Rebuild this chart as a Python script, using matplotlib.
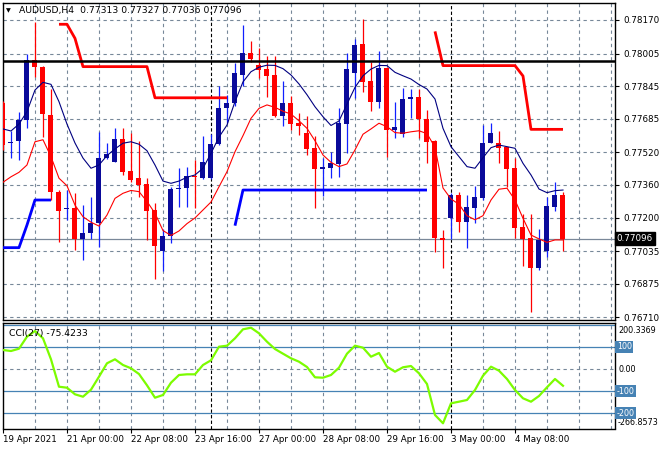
import matplotlib
matplotlib.use('Agg')
import matplotlib.pyplot as plt
import numpy as np

# ---------------- data (AUDUSD H4) ----------------
opens = [0.77762, 0.77566, 0.77577, 0.77679, 0.77974, 0.77941, 0.77703, 0.77324, 0.77242, 0.77248,
         0.77093, 0.77123, 0.77172, 0.77491, 0.77474, 0.77586, 0.77428, 0.77396, 0.77365, 0.77237,
         0.77037, 0.77109, 0.77339, 0.77346, 0.77404, 0.77394, 0.77396, 0.77561, 0.77739, 0.77764,
         0.77900, 0.78009, 0.77949, 0.77929, 0.77900, 0.77699, 0.77761, 0.77666, 0.77617, 0.77540,
         0.77437, 0.77445, 0.77463, 0.77661, 0.77911, 0.78052, 0.77870, 0.77769, 0.77933, 0.77630,
         0.77609, 0.77781, 0.77790, 0.77682, 0.77576, 0.77101, 0.77196, 0.77311, 0.77180, 0.77248,
         0.77297, 0.77567, 0.77567, 0.77544, 0.77442, 0.77152, 0.77101, 0.76954, 0.77037, 0.77253,
         0.77313]
highs = [0.77772, 0.77625, 0.77718, 0.78003, 0.78162, 0.77944, 0.77830, 0.77335, 0.77335, 0.77319,
         0.77262, 0.77299, 0.77621, 0.77568, 0.77641, 0.77641, 0.77617, 0.77576, 0.77394, 0.77271,
         0.77142, 0.77350, 0.77442, 0.77447, 0.77483, 0.77602, 0.77610, 0.77846, 0.77802, 0.77957,
         0.78145, 0.78067, 0.78032, 0.77993, 0.77993, 0.77870, 0.77798, 0.77715, 0.77699, 0.77600,
         0.77491, 0.77523, 0.77736, 0.78009, 0.78077, 0.78173, 0.77965, 0.78018, 0.77939, 0.77769,
         0.77835, 0.77830, 0.77831, 0.77728, 0.77581, 0.77139, 0.77319, 0.77327, 0.77311, 0.77355,
         0.77654, 0.77666, 0.77625, 0.77546, 0.77491, 0.77217, 0.77217, 0.77142, 0.77301, 0.77373,
         0.77327]
lows = [0.77532, 0.77492, 0.77482, 0.77640, 0.77892, 0.77597, 0.77286, 0.77081, 0.77188, 0.77041,
        0.76991, 0.77093, 0.77057, 0.77489, 0.77473, 0.77409, 0.77374, 0.77301, 0.77090, 0.76897,
        0.76939, 0.77073, 0.77253, 0.77253, 0.77245, 0.77389, 0.77389, 0.77556, 0.77664, 0.77748,
        0.77846, 0.77965, 0.77884, 0.77793, 0.77694, 0.77651, 0.77630, 0.77605, 0.77507, 0.77245,
        0.77306, 0.77396, 0.77400, 0.77515, 0.77787, 0.77818, 0.77725, 0.77736, 0.77497, 0.77589,
        0.77597, 0.77689, 0.77592, 0.77466, 0.77032, 0.76951, 0.77093, 0.77130, 0.77052, 0.77173,
        0.77286, 0.77565, 0.77466, 0.77351, 0.77101, 0.76962, 0.76738, 0.76942, 0.77008, 0.77234,
        0.77036]
closes = [0.77556, 0.77573, 0.77679, 0.77974, 0.77941, 0.77707, 0.77323, 0.77234, 0.77247, 0.77093,
          0.77123, 0.77172, 0.77491, 0.77512, 0.77586, 0.77425, 0.77384, 0.77360, 0.77234, 0.77062,
          0.77109, 0.77339, 0.77346, 0.77404, 0.77398, 0.77473, 0.77561, 0.77739, 0.77761, 0.77911,
          0.78009, 0.77978, 0.77924, 0.77895, 0.77699, 0.77761, 0.77659, 0.77649, 0.77537, 0.77437,
          0.77447, 0.77466, 0.77666, 0.77928, 0.78047, 0.77867, 0.77769, 0.77933, 0.77630, 0.77646,
          0.77781, 0.77793, 0.77682, 0.77572, 0.77101, 0.77090, 0.77311, 0.77180, 0.77253, 0.77302,
          0.77564, 0.77617, 0.77540, 0.77437, 0.77150, 0.77095, 0.76954, 0.77090, 0.77257, 0.77311,
          0.77096]

ma_blue = [0.77635, 0.77625, 0.77659, 0.77720, 0.77826, 0.77864, 0.77854, 0.77769, 0.77659, 0.77566,
           0.77492, 0.77442, 0.77458, 0.77504, 0.77537, 0.77565, 0.77572, 0.77560, 0.77528, 0.77458,
           0.77379, 0.77368, 0.77379, 0.77398, 0.77409, 0.77442, 0.77515, 0.77595, 0.77654, 0.77769,
           0.77866, 0.77916, 0.77938, 0.77948, 0.77947, 0.77931, 0.77900, 0.77856, 0.77803, 0.77744,
           0.77695, 0.77652, 0.77674, 0.77757, 0.77839, 0.77896, 0.77929, 0.77947, 0.77946, 0.77913,
           0.77896, 0.77880, 0.77853, 0.77831, 0.77782, 0.77638, 0.77548, 0.77499, 0.77450, 0.77442,
           0.77494, 0.77543, 0.77556, 0.77548, 0.77540, 0.77466, 0.77409, 0.77340, 0.77322, 0.77332,
           0.77335]
ma_red = [0.77373, 0.77400, 0.77422, 0.77458, 0.77572, 0.77582, 0.77499, 0.77393, 0.77356, 0.77261,
          0.77204, 0.77177, 0.77158, 0.77212, 0.77294, 0.77319, 0.77333, 0.77327, 0.77279, 0.77221,
          0.77136, 0.77112, 0.77134, 0.77170, 0.77198, 0.77237, 0.77276, 0.77351, 0.77425, 0.77523,
          0.77602, 0.77687, 0.77736, 0.77753, 0.77741, 0.77722, 0.77708, 0.77675, 0.77638, 0.77577,
          0.77507, 0.77471, 0.77450, 0.77463, 0.77532, 0.77609, 0.77635, 0.77663, 0.77646, 0.77617,
          0.77614, 0.77621, 0.77626, 0.77612, 0.77545, 0.77345, 0.77291, 0.77265, 0.77209, 0.77189,
          0.77209, 0.77286, 0.77339, 0.77344, 0.77286, 0.77196, 0.77114, 0.77095, 0.77078, 0.77090,
          0.77090]

nan = float('nan')
stop_red = ([nan] * 7 + [0.78149, 0.78149, 0.78080] + [0.77941] * 9 + [0.77788] * 10
            + [nan] * 25 + [0.78114] + [0.77946] * 10 + [0.77895] + [0.77633] * 5)
stop_blue = ([0.77052] * 3 + [0.77163] + [0.77286] * 3 + [nan] * 22
             + [0.77160] + [0.77335] * 24 + [nan] * 17)

cci = [85.5, 81.0, 91.4, 145.4, 171.0, 138.2, 43.7, -79.7, -84.2, -113.9,
       -124.7, -93.2, -34.7, 25.7, 43.7, 18.0, 3.2, -22.5, -73.4, -129.2,
       -117.0, -61.7, -27.0, -23.9, -23.9, 18.0, 39.2, 100.4, 104.9, 138.2,
       178.7, 185.9, 160.7, 122.9, 90.0, 68.9, 48.2, 32.9, 9.0, -37.4,
       -39.2, -27.0, 5.9, 68.9, 104.9, 95.9, 55.4, 72.0, 10.4, -12.2,
       7.7, 13.5, -19.4, -67.5, -207.0, -244.4, -154.4, -147.2, -139.5, -94.5,
       -30.2, 10.4, -7.7, -45.0, -94.5, -131.9, -147.2, -121.5, -82.4, -45.0,
       -75.4233]

price_ticks = [0.78170, 0.78005, 0.77845, 0.77685, 0.77520, 0.77360, 0.77200, 0.77035, 0.76875, 0.76710]
price_labels = ['0.78170', '0.78005', '0.77845', '0.77685', '0.77520', '0.77360', '0.77200', '0.77035', '0.76875', '0.76710']
date_idx = [0, 8, 16, 24, 32, 40, 48, 56, 64]
date_labels = ['19 Apr 2021', '21 Apr 00:00', '22 Apr 08:00', '23 Apr 16:00', '27 Apr 00:00',
               '28 Apr 08:00', '29 Apr 16:00', '3 May 00:00', '4 May 08:00']
week_sep = [26, 56]
resistance = 0.77969
last_price = 0.77096
cci_levels = [200, 100, -100, -200]
cci_min, cci_max = -266.8573, 200.3369

# ---------------- layout ----------------
W, H = 660, 450
FONT = 'DejaVu Sans'
FS = 6.3
fig = plt.figure(figsize=(W / 100, H / 100), dpi=100)
fig.patch.set_facecolor('white')

def rect(x0, y0, x1, y1):
    return [x0 / W, 1 - y1 / H, (x1 - x0) / W, (y1 - y0) / H]

ax = fig.add_axes(rect(2.5, 3, 615, 320))
axc = fig.add_axes(rect(2.5, 322.5, 615, 428.5))

n = len(opens)
x = np.arange(n)
xlim = (-0.06, 76.5)

GRID = '#778899'
DASH = (0, (3, 3))

p_per_px = (price_ticks[0] - price_ticks[-1]) / 297.3
ytop = price_ticks[0] + (20 - 3) * p_per_px
ybot = price_ticks[0] - (320 - 20) * p_per_px

for a in (ax, axc):
    a.set_xlim(*xlim)
    for s in a.spines.values():
        s.set_color('black')
        s.set_linewidth(1.0)
    for k in range(4, 77, 4):
        if k in week_sep:
            continue
        a.axvline(k, color=GRID, lw=0.8, ls=DASH, zorder=0)
    for k in week_sep:
        a.axvline(k, color='black', lw=0.8, ls=(0, (3, 2)), zorder=0.5)

ax.set_ylim(ybot, ytop)
for p in price_ticks:
    ax.axhline(p, color=GRID, lw=0.8, ls=DASH, zorder=0)

# candles
bull_body, bull_wick = '#0a0a9a', '#1020ff'
bear = '#ff0000'
for i in range(n):
    o, h, l, c = opens[i], highs[i], lows[i], closes[i]
    up = c >= o
    wc = bull_wick if up else bear
    bc = bull_body if up else bear
    ax.vlines(i, l, h, colors=wc, lw=0.9, zorder=3)
    hgt = max(abs(c - o), 0.00005)
    ax.bar(i, hgt, bottom=min(o, c), width=0.625, color=bc, lw=0, zorder=4)

ax.plot(x, ma_blue, color='#000080', lw=0.8, zorder=5)
ax.plot(x, ma_red, color='#ff0000', lw=0.8, zorder=5)
ax.plot(x, stop_red, color='#ff0000', lw=2.0, zorder=5, solid_capstyle='butt')
ax.plot(x, stop_blue, color='#0000ff', lw=2.0, zorder=5, solid_capstyle='butt')
ax.axhline(resistance, color='black', lw=1.8, zorder=6)
ax.axhline(last_price, color='#7a8899', lw=0.9, zorder=2)

ax.set_xticks([])
ax.yaxis.tick_right()
ax.set_yticks(price_ticks)
ax.set_yticklabels(price_labels, fontsize=FS, family=FONT)
ax.tick_params(axis='y', length=3, width=0.8, pad=3, colors='black')

ytr = ax.get_yaxis_transform()
ax.text(1.0025, last_price, f'{last_price:.5f}', transform=ytr, ha='left', va='center',
        fontsize=FS, family=FONT, color='white', zorder=10,
        bbox=dict(boxstyle='square,pad=0.22', fc='black', ec='black'))

# title
fig.text(6 / W, 1 - 10.5 / H, '▼', fontsize=4.5, family=FONT, va='center', ha='left')
fig.text(19 / W, 1 - 10.5 / H, 'AUDUSD,H4  0.77313 0.77327 0.77036 0.77096',
         fontsize=FS + 0.4, family=FONT, va='center', ha='left', color='black')

# ---------------- CCI ----------------
axc.set_ylim(cci_min - 1, cci_max + 9)
axc.axhline(0, color=GRID, lw=0.8, ls=DASH, zorder=0)
for lv in cci_levels:
    axc.axhline(lv, color='#4682b4', lw=0.9, zorder=1)
axc.plot(x, cci, color='#7cfc00', lw=1.6, zorder=4)

axc.set_yticks([])
axc.set_xticks(date_idx)
axc.set_xticklabels(date_labels, fontsize=FS, family=FONT)
for lbl in axc.get_xticklabels():
    lbl.set_ha('left')
axc.tick_params(axis='x', length=3, width=0.8, pad=2)

SFS = 5.8
ctr = axc.get_yaxis_transform()
for lv in [100, -100, -200]:
    axc.text(1.003, lv, str(lv), transform=ctr, ha='left', va='center', fontsize=SFS,
             family=FONT, color='white', zorder=10,
             bbox=dict(boxstyle='square,pad=0.18', fc='#4682b4', ec='none'))
axc.text(1.006, 175, f'{cci_max:.4f}', transform=ctr, ha='left', va='center',
         fontsize=SFS, family=FONT, color='black', zorder=11)
axc.text(1.006, 0, '0.00', transform=ctr, ha='left', va='center', fontsize=SFS,
         family=FONT, color='black')
axc.text(1.004, cci_min + 24, f'{cci_min:.4f}', transform=ctr, ha='left', va='center',
         fontsize=SFS, family=FONT, color='black')
axc.text(0.01, 0.9, f'CCI(27) {cci[-1]:.4f}', transform=axc.transAxes, ha='left', va='center',
         fontsize=FS + 0.4, family=FONT, color='black', zorder=10)

fig.savefig('out.png', dpi=100, facecolor='white')
